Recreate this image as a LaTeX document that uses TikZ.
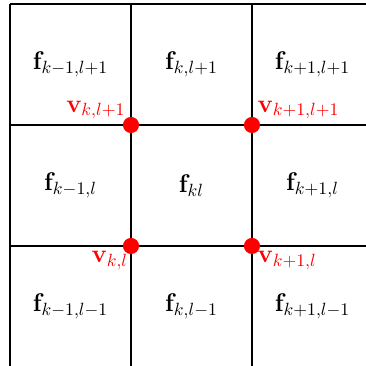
\documentclass[tikz,border=0pt]{standalone}
\usepackage{tikz}

\tikzset{
  gridline/.style={line width=0.8pt,black},
  facelbl/.style={font=\Large,scale=1.25},
  vertdot/.style={circle,fill=red,inner sep=0pt,minimum size=0.4cm},
  vertlbl/.style={font=\Large,scale=1.25,text=red,inner sep=3pt}
}

\begin{document}
\begin{tikzpicture}[x=3cm,y=3cm]
\useasboundingbox (-0.0826,0.008) rectangle (2.942,3.033);
\clip (-0.0826,0.008) rectangle (2.942,3.033);
% cell grid
\draw[gridline] (0,3) -- (3.2,3);
\draw[gridline] (0,2) -- (3.2,2);
\draw[gridline] (0,1) -- (3.2,1);
\draw[gridline] (0,3) -- (0,-0.2);
\draw[gridline] (1,3) -- (1,-0.2);
\draw[gridline] (2,3) -- (2,-0.2);
% faces
\node[facelbl] (fkmlp) at (0.5,2.5) {$\mathbf{f}_{k-1,l+1}$};
\node[facelbl] (fklp)  at (1.5,2.5) {$\mathbf{f}_{k,l+1}$};
\node[facelbl] (fkplp) at (2.5,2.5) {$\mathbf{f}_{k+1,l+1}$};
\node[facelbl] (fkml)  at (0.5,1.5) {$\mathbf{f}_{k-1,l}$};
\node[facelbl] (fkl)   at (1.5,1.5) {$\mathbf{f}_{kl}$};
\node[facelbl] (fkpl)  at (2.5,1.5) {$\mathbf{f}_{k+1,l}$};
\node[facelbl] (fkmlm) at (0.5,0.5) {$\mathbf{f}_{k-1,l-1}$};
\node[facelbl] (fklm)  at (1.5,0.5) {$\mathbf{f}_{k,l-1}$};
\node[facelbl] (fkplm) at (2.5,0.5) {$\mathbf{f}_{k+1,l-1}$};
% vertices
\node[vertdot] (vklp)  at (1,2) {};
\node[vertdot] (vkplp) at (2,2) {};
\node[vertdot] (vkl)   at (1,1) {};
\node[vertdot] (vkpl)  at (2,1) {};
\node[vertlbl,anchor=south east] (lklp)  at (vklp.center)  {$\mathbf{v}_{k,l+1}$};
\node[vertlbl,anchor=south west] (lkplp) at (vkplp.center) {$\mathbf{v}_{k+1,l+1}$};
\node[vertlbl,anchor=north east,inner xsep=1.5pt] (lkl) at (vkl.center) {$\mathbf{v}_{k,l}$};
\node[vertlbl,anchor=north west] (lkpl)  at (vkpl.center)  {$\mathbf{v}_{k+1,l}$};
\end{tikzpicture}
\end{document}
